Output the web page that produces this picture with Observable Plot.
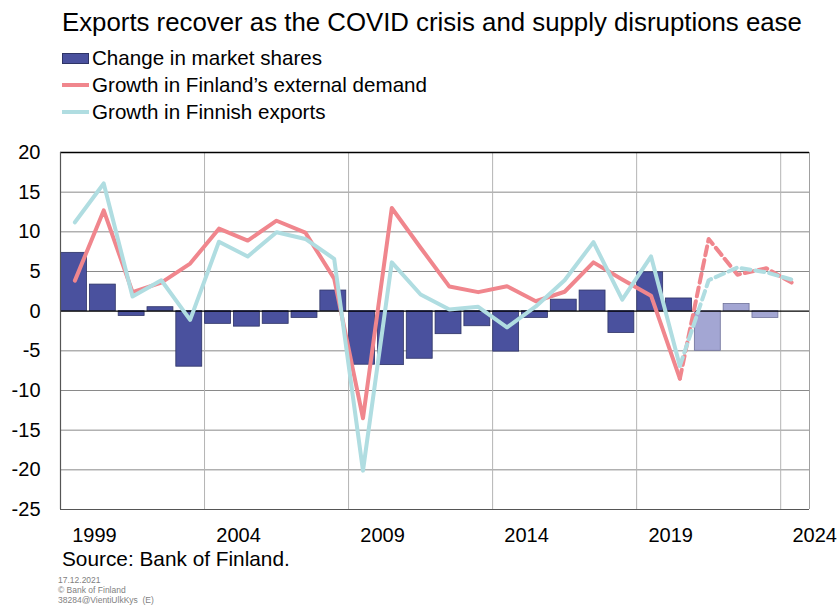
<!DOCTYPE html>
<html>
<head>
<meta charset="utf-8">
<script src="https://cdn.jsdelivr.net/npm/d3@7"></script>
<script src="https://cdn.jsdelivr.net/npm/@observablehq/plot@0.6"></script>
<style>
  body { margin: 0; background: #fff; }
  #wrap { position: relative; width: 840px; height: 607px; font-family: "Liberation Sans", Arial, sans-serif; color: #000; overflow: hidden; }
  .abs { position: absolute; white-space: nowrap; }
  .title { left: 62px; top: 7px; font-size: 25.8px; line-height: 30px; }
  .leg { left: 62px; font-size: 20.6px; line-height: 24px; display: flex; align-items: center; }
  .sw { width: 27px; margin-right: 3px; }
  .src { left: 62px; top: 547px; font-size: 20.8px; line-height: 24px; }
  .small { left: 58px; font-size: 8.5px; line-height: 10px; color: #7f7f7f; }
  #chart { position: absolute; left: 0; top: 125px; }
</style>
</head>
<body>
<div id="wrap">
  <div class="abs title">Exports recover as the COVID crisis and supply disruptions ease</div>
  <div class="abs leg" style="top:46px"><span class="sw" style="height:11px;background:#4a519e;border:1px solid #2e3466;box-sizing:border-box"></span>Change in market shares</div>
  <div class="abs leg" style="top:73px"><span class="sw" style="height:4px;background:#f0868d"></span>Growth in Finland’s external demand</div>
  <div class="abs leg" style="top:100px"><span class="sw" style="height:4px;background:#b0dde1"></span>Growth in Finnish exports</div>
  <div class="abs" style="left:62px;top:128px;font-size:20px;line-height:24px">%</div>
  <div id="chart"></div>
  <div class="abs src">Source: Bank of Finland.</div>
  <div class="abs small" style="top:575px">17.12.2021</div>
  <div class="abs small" style="top:585px">© Bank of Finland</div>
  <div class="abs small" style="top:595px">38284@VientiUlkKys &nbsp;(E)</div>
</div>
<script>
// Bars: change in market shares (2021-2023 forecast)
const barYears = [1999,2000,2001,2002,2003,2004,2005,2006,2007,2008,2009,2010,2011,2012,2013,2014,2015,2016,2017,2018,2019,2020,2021,2022,2023];
const marketShares = [7.35,3.35,-0.6,0.5,-7.0,-1.6,-1.95,-1.6,-0.85,2.6,-6.75,-6.8,-6.0,-2.9,-1.9,-5.1,-0.85,1.45,2.6,-2.75,4.9,1.6,-5.0,0.9,-0.85];
const forecastFrom = 2021;

// Lines
const lineYears = [1999,2000,2001,2002,2003,2004,2005,2006,2007,2008,2009,2010,2011,2012,2013,2014,2015,2016,2017,2018,2019,2020,2021,2022,2023,2024];
const externalDemand = [3.85,12.7,2.4,3.6,6.0,10.4,8.9,11.4,9.9,4.1,-13.5,13.0,8.0,3.1,2.4,3.15,1.25,2.45,6.15,4.0,1.95,-8.5,9.1,4.6,5.4,3.35];
const finnishExports = [11.2,16.1,1.85,3.9,-1.1,8.75,6.9,9.95,9.1,6.6,-20.1,6.15,2.1,0.2,0.55,-2.05,0.6,3.9,8.7,1.45,6.9,-6.9,3.9,5.5,4.9,3.85];
const lineForecastFrom = 2020;

const yTicks = [-25,-20,-15,-10,-5,0,5,10,15,20];
const xTicks = [1999,2004,2009,2014,2019,2024];
const xGrid = [2004,2009,2014,2019,2024];

const bars = barYears.map((y, i) => ({year: y, value: marketShares[i], fc: y >= forecastFrom}));
const demand = lineYears.map((y, i) => ({x: y + 0.5, v: externalDemand[i], year: y}));
const exportsD = lineYears.map((y, i) => ({x: y + 0.5, v: finnishExports[i], year: y}));
const solid = arr => arr.filter(d => d.year <= lineForecastFrom);
const dashed = arr => arr.filter(d => d.year >= lineForecastFrom);

const RED = "#f0868d", CYAN = "#b0dde1";

const chart = Plot.plot({
  width: 840,
  height: 424,
  marginLeft: 60,
  marginRight: 31,
  marginTop: 27,
  marginBottom: 40,
  style: {fontFamily: '"Liberation Sans", Arial, sans-serif', fontSize: "20px", color: "#000", background: "#fff", overflow: "visible"},
  x: {type: "linear", domain: [1999, 2025]},
  y: {domain: [-25, 20]},
  marks: [
    Plot.ruleY(yTicks.filter(t => t !== 0 && t !== 20 && t !== -25), {stroke: "#8a8a8a", strokeWidth: 1}),
    Plot.ruleX(xGrid, {stroke: "#b4b4b4", strokeWidth: 1}),
    Plot.ruleX([2025], {stroke: "#a0a0a0", strokeWidth: 1}),
    Plot.rectY(bars, {
      x1: d => d.year + 0.02, x2: d => d.year + 0.92,
      y1: 0, y2: "value",
      fill: d => d.fc ? "#a3a6d3" : "#4a519e",
      stroke: d => d.fc ? "#6d7099" : "#2e3466",
      strokeWidth: 0.8
    }),
    Plot.ruleY([0], {stroke: "#000", strokeWidth: 1.3}),
    Plot.ruleY([20], {stroke: "#000", strokeWidth: 1.3}),
    Plot.ruleY([-25], {stroke: "#555", strokeWidth: 1.2}),
    Plot.ruleX([1999], {stroke: "#555", strokeWidth: 1.2}),
    Plot.line(solid(demand), {x: "x", y: "v", stroke: RED, strokeWidth: 4, strokeLinejoin: "round"}),
    Plot.line(dashed(demand), {x: "x", y: "v", stroke: RED, strokeWidth: 4, strokeDasharray: "9,5", strokeLinejoin: "round"}),
    Plot.line(solid(exportsD), {x: "x", y: "v", stroke: CYAN, strokeWidth: 4, strokeLinejoin: "round"}),
    Plot.line(dashed(exportsD), {x: "x", y: "v", stroke: CYAN, strokeWidth: 4, strokeDasharray: "9,5", strokeLinejoin: "round"}),
    Plot.axisY({ticks: yTicks, tickSize: 0, tickPadding: 20, fontSize: 20, label: null, tickFormat: d => String(d)}),
    Plot.axisX({ticks: xTicks, tickSize: 0, tickPadding: 18, fontSize: 20, label: null, tickFormat: d => String(d), dx: 34})
  ]
});
document.getElementById("chart").appendChild(chart);
</script>
</body>
</html>
